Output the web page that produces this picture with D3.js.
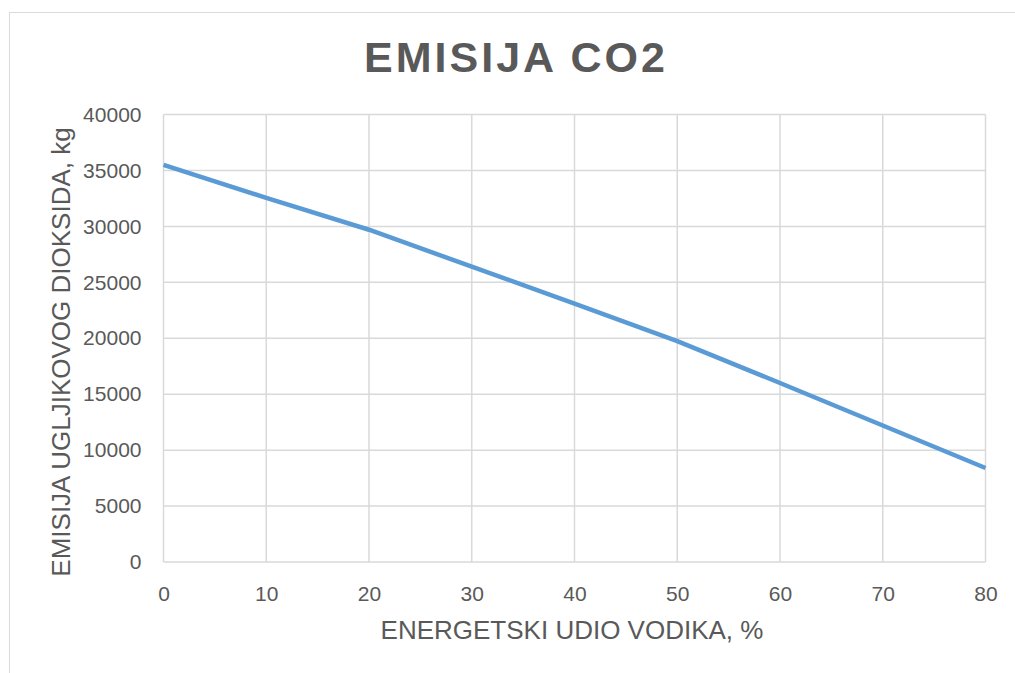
<!DOCTYPE html>
<html lang="hr">
<head>
<meta charset="UTF-8">
<title>Emisija CO2</title>
<script src="https://cdn.jsdelivr.net/npm/d3@7"></script>
<style>
  body { margin: 0; background: #fff; }
  svg text { fill: #595959; }
</style>
</head>
<body>
<div id="chart"></div>
<script>
// energetski udio vodika (%) i emisija CO2 (kg)
var udio = [0, 10, 20, 30, 40, 50, 60, 70, 80];
var emisija = [35500, 32550, 29700, 26400, 23100, 19750, 16000, 12200, 8400];
var xTicks = [0, 10, 20, 30, 40, 50, 60, 70, 80];
var yTicks = [0, 5000, 10000, 15000, 20000, 25000, 30000, 35000, 40000];

var W = 1015, H = 673;
var m = {left: 163.5, right: 985.5, top: 114.5, bottom: 562};
var font = "'Liberation Sans', Arial, sans-serif";

var svg = d3.select("#chart").append("svg").attr("width", W).attr("height", H);

// okvir grafa
svg.append("rect")
  .attr("x", 9.5).attr("y", 12.5).attr("width", W + 20).attr("height", H + 20)
  .attr("fill", "none").attr("stroke", "#d9d9d9").attr("stroke-width", 1);

var x = d3.scaleLinear().domain([0, 80]).range([m.left, m.right]);
var y = d3.scaleLinear().domain([0, 40000]).range([m.bottom, m.top]);

// mreza
svg.append("g").selectAll("line").data(xTicks).join("line")
  .attr("x1", d => x(d)).attr("x2", d => x(d))
  .attr("y1", m.top).attr("y2", m.bottom)
  .attr("stroke", "#d9d9d9").attr("stroke-width", 1.5);
svg.append("g").selectAll("line").data(yTicks).join("line")
  .attr("x1", m.left).attr("x2", m.right)
  .attr("y1", d => y(d)).attr("y2", d => y(d))
  .attr("stroke", "#d9d9d9").attr("stroke-width", 1.5);

// osi (samo oznake)
var xAxis = svg.append("g").attr("transform", "translate(0," + m.bottom + ")")
  .call(d3.axisBottom(x).tickValues(xTicks).tickSize(0).tickPadding(24).tickFormat(d3.format("d")));
var yAxis = svg.append("g").attr("transform", "translate(" + m.left + ",0)")
  .call(d3.axisLeft(y).tickValues(yTicks).tickSize(0).tickPadding(22).tickFormat(d3.format("d")));
[xAxis, yAxis].forEach(function(a) {
  a.select(".domain").remove();
  a.selectAll("text").attr("font-family", font).attr("font-size", 21).attr("fill", "#595959");
});

// linija
var line = d3.line().x((d, i) => x(udio[i])).y(d => y(d));
svg.append("path").datum(emisija)
  .attr("d", line)
  .attr("fill", "none").attr("stroke", "#5b9bd5").attr("stroke-width", 4.5)
  .attr("stroke-linejoin", "round");

// naslovi
svg.append("text")
  .attr("x", 516).attr("y", 72)
  .attr("text-anchor", "middle")
  .attr("font-family", font)
  .attr("font-weight", "bold").attr("font-size", 43)
  .attr("letter-spacing", 3)
  .text("EMISIJA CO2");

svg.append("text")
  .attr("x", 572).attr("y", 639)
  .attr("text-anchor", "middle")
  .attr("font-family", font).attr("font-size", 26)
  .text("ENERGETSKI UDIO VODIKA, %");

svg.append("text")
  .attr("transform", "translate(70,352) rotate(-90)")
  .attr("text-anchor", "middle")
  .attr("font-family", font).attr("font-size", 26)
  .text("EMISIJA UGLJIKOVOG DIOKSIDA, kg");
</script>
</body>
</html>
